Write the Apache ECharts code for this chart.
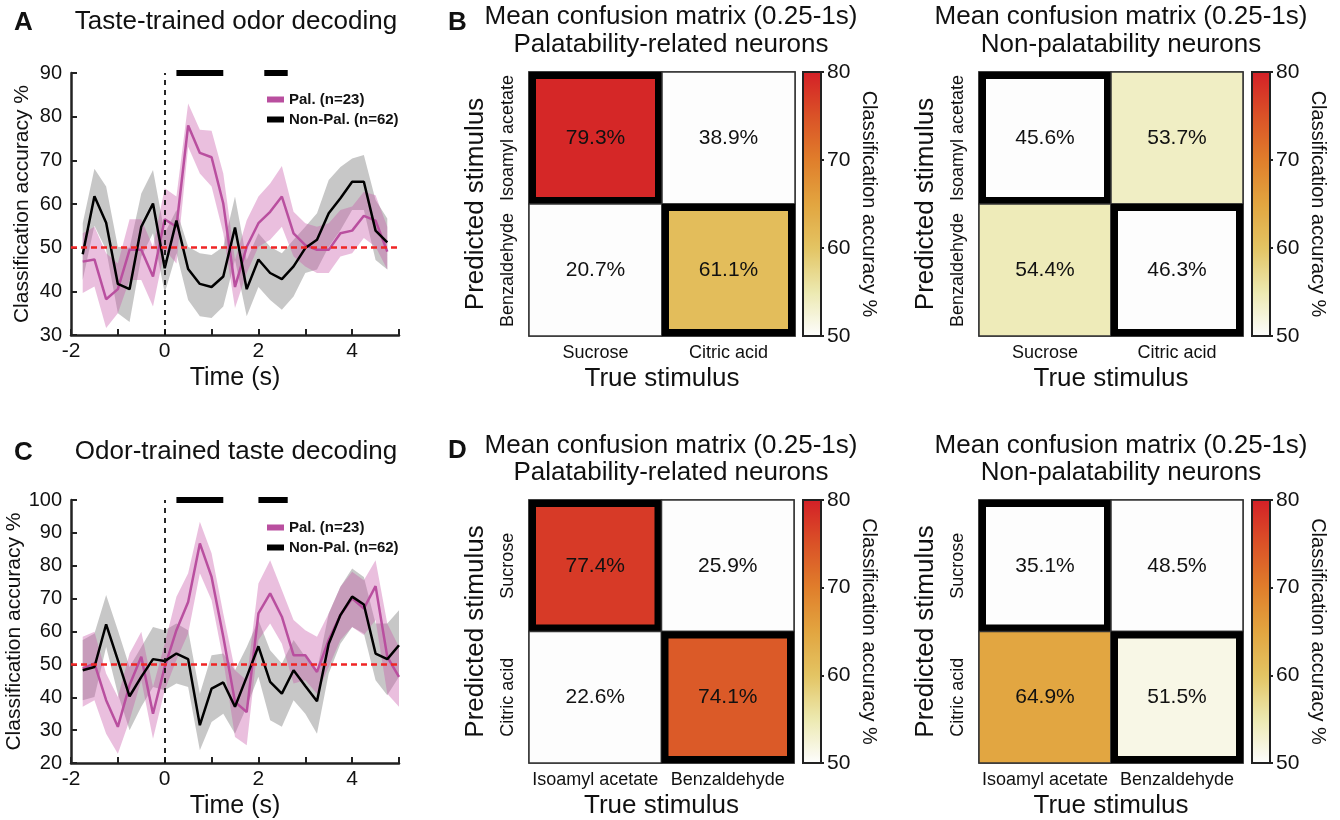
<!DOCTYPE html>
<html>
<head>
<meta charset="utf-8">
<script src="https://cdn.jsdelivr.net/npm/echarts@6/dist/echarts.min.js"></script>
<style>
  html, body { margin: 0; padding: 0; background: #fff; }
  #chart { width: 1340px; height: 820px; }
</style>
</head>
<body>
<div id="chart"></div>
<script>
// ---- data ----
const timeA = [-1.75, -1.5, -1.25, -1, -0.75, -0.5, -0.25, 0, 0.25, 0.5, 0.75, 1, 1.25, 1.5, 1.75, 2, 2.25, 2.5, 2.75, 3, 3.25, 3.5, 3.75, 4, 4.25, 4.5, 4.75];
const palA = [46.8, 47.3, 38.2, 40.5, 49.5, 49.5, 43.4, 56.5, 54.8, 78.0, 71.7, 70.7, 60.1, 41.0, 50.2, 55.6, 58.2, 61.7, 53.3, 50.6, 49.5, 49.5, 53.3, 53.9, 57.3, 56.2, 49.1];
const palA_hi = [53.3, 54.8, 48.7, 46.4, 56.5, 56.5, 50.2, 63.6, 61.7, 83.0, 77.0, 76.8, 67.0, 47.2, 56.3, 61.7, 64.7, 68.7, 58.2, 55.6, 54.8, 55.6, 58.6, 59.4, 62.8, 62.0, 54.8];
const palA_lo = [39.6, 41.1, 31.6, 35.0, 42.6, 42.6, 36.5, 49.5, 46.4, 73.1, 67.0, 64.0, 53.3, 36.2, 44.2, 50.2, 51.8, 54.8, 48.0, 45.7, 44.2, 44.2, 48.0, 48.7, 52.2, 50.2, 45.0];
const nonA = [48.5, 61.8, 55.7, 41.7, 40.5, 54.8, 60.1, 45.3, 56.2, 45.1, 41.7, 41.0, 43.4, 54.6, 40.5, 47.3, 44.2, 42.8, 45.7, 49.9, 51.8, 57.9, 61.3, 65.1, 65.1, 53.9, 51.2];
const nonA_hi = [55.6, 68.1, 64.0, 50.2, 50.0, 62.4, 67.8, 53.3, 58.6, 50.2, 48.7, 48.3, 50.2, 61.7, 47.2, 53.3, 50.2, 48.7, 51.8, 54.8, 57.9, 65.5, 68.5, 70.4, 71.2, 60.9, 56.7];
const nonA_lo = [42.6, 55.0, 49.5, 35.0, 33.0, 48.0, 53.3, 39.6, 48.7, 38.0, 34.3, 33.9, 36.5, 47.2, 34.3, 41.0, 38.0, 35.8, 38.8, 44.2, 45.0, 50.2, 54.0, 58.6, 58.6, 47.2, 45.0];
const sigA = [[0.25, 1.25], [2.125, 2.625]];

const timeC = [-1.75, -1.5, -1.25, -1, -0.75, -0.5, -0.25, 0, 0.25, 0.5, 0.75, 1, 1.25, 1.5, 1.75, 2, 2.25, 2.5, 2.75, 3, 3.25, 3.5, 3.75, 4, 4.25, 4.5, 4.75, 5];
const palC = [48.7, 50.3, 39.1, 31.0, 43.7, 52.3, 35.0, 49.2, 60.4, 69.0, 86.8, 76.6, 58.4, 38.6, 35.5, 65.5, 71.6, 64.5, 52.8, 52.8, 47.7, 57.4, 65.0, 70.1, 67.0, 73.8, 52.3, 46.2];
const palC_hi = [58.4, 59.9, 47.2, 40.1, 53.3, 59.9, 43.1, 56.3, 70.6, 77.7, 93.4, 83.8, 65.5, 48.2, 45.2, 74.6, 81.7, 72.6, 63.5, 60.4, 58.4, 65.5, 73.6, 78.2, 75.6, 81.7, 62.4, 55.3];
const palC_lo = [37.1, 39.1, 28.9, 22.8, 33.0, 45.2, 27.4, 42.1, 51.3, 59.4, 77.7, 69.5, 51.3, 27.9, 25.4, 57.4, 62.4, 56.3, 44.2, 45.2, 41.1, 49.2, 57.4, 61.4, 58.9, 63.5, 41.1, 37.1];
const nonC = [48.2, 49.2, 62.2, 51.3, 40.3, 46.2, 51.6, 51.0, 53.3, 51.6, 31.5, 42.6, 44.5, 37.1, 46.2, 55.5, 44.7, 41.1, 48.2, 43.4, 38.8, 56.3, 65.0, 70.6, 68.2, 53.3, 51.6, 55.8];
const nonC_hi = [57.4, 59.4, 71.1, 60.4, 49.2, 55.3, 61.4, 60.4, 62.4, 60.4, 41.1, 52.8, 53.3, 48.2, 55.3, 63.5, 54.3, 50.3, 57.4, 52.3, 48.2, 65.5, 73.6, 79.2, 76.6, 62.4, 62.4, 66.5];
const nonC_lo = [39.1, 40.1, 55.3, 41.1, 30.0, 37.1, 43.1, 42.1, 44.2, 43.1, 23.9, 32.5, 35.0, 28.9, 37.1, 46.2, 33.0, 31.0, 39.1, 35.0, 28.9, 47.2, 56.3, 61.4, 59.4, 45.2, 40.6, 46.2];
const sigC = [[0.25, 1.25], [2.0, 2.625]];

const tastes = ['Sucrose', 'Citric acid'];
const odors = ['Isoamyl acetate', 'Benzaldehyde'];
// rows = predicted (top first), cols = true
const cmB_pal = [[79.3, 38.9], [20.7, 61.1]];
const cmB_non = [[45.6, 53.7], [54.4, 46.3]];
const cmD_pal = [[77.4, 25.9], [22.6, 74.1]];
const cmD_non = [[35.1, 48.5], [64.9, 51.5]];
const cbTicks = [50, 80, 10];

// ---- style ----
const FONT = '"Liberation Sans", Arial, sans-serif';
const INK = '#111';
const PINK = '#b94f9f';
const heatColors = ['#fdfdfd', '#ece9b0', '#e3c463', '#e2a540', '#e07e2b', '#da5227', '#d42027'];

const pairs = (xs, ys) => xs.map((x, i) => [x, ys[i]]);
const triples = (xs, lo, hi) => xs.map((x, i) => [x, lo[i], hi[i]]);

const grids = [], xAxes = [], yAxes = [], series = [], visualMaps = [];

// one filled polygon: upper edge left->right, lower edge right->left
function bandRenderer(fill) {
  return function (params, api) {
    if (params.dataIndexInside !== 0) return null;
    const n = params.dataInsideLength;
    const up = [], dn = [];
    for (let i = 0; i < n; i++) {
      up.push(api.coord([api.value(0, i), api.value(2, i)]));
      dn.push(api.coord([api.value(0, i), api.value(1, i)]));
    }
    return { type: 'polygon', shape: { points: up.concat(dn.reverse()) }, style: { fill: fill } };
  };
}

function lineGrid(gi, box, ymin, ymax, time, pal, palHi, palLo, non, nonHi, nonLo, sig) {
  grids.push(Object.assign({ containLabel: false }, box));
  const axLine = { show: true, onZero: false, lineStyle: { color: '#222', width: 2.5 } };
  xAxes.push({
    gridIndex: gi, type: 'value', min: -2, max: 5, interval: 1,
    axisLine: axLine,
    axisTick: { show: true, inside: true, length: 6, lineStyle: { color: '#222', width: 2 } },
    axisLabel: { color: INK, fontSize: 21, fontFamily: FONT, margin: 6, formatter: v => (v % 2 === 0 ? String(v) : '') },
    splitLine: { show: false },
    name: 'Time (s)', nameLocation: 'middle', nameGap: 31,
    nameTextStyle: { color: INK, fontSize: 25, fontFamily: FONT }
  });
  yAxes.push({
    gridIndex: gi, type: 'value', min: ymin, max: ymax, interval: 10,
    axisLine: axLine,
    axisTick: { show: true, inside: true, length: 6, lineStyle: { color: '#222', width: 2 } },
    axisLabel: { color: INK, fontSize: 20, fontFamily: FONT, margin: 9 },
    splitLine: { show: false },
    name: 'Classification accuracy %', nameLocation: 'middle', nameGap: 38,
    nameTextStyle: { color: INK, fontSize: 21, fontFamily: FONT }
  });
  const base = { xAxisIndex: gi, yAxisIndex: gi, silent: true, animation: false };
  series.push(Object.assign({}, base, { type: 'custom', name: 'nonband' + gi, z: 1,
    renderItem: bandRenderer('rgba(0,0,0,0.22)'), encode: { x: 0, y: [1, 2] }, data: triples(time, nonLo, nonHi) }));
  series.push(Object.assign({}, base, { type: 'custom', name: 'palband' + gi, z: 1,
    renderItem: bandRenderer('rgba(200,86,168,0.38)'), encode: { x: 0, y: [1, 2] }, data: triples(time, palLo, palHi) }));
  const line = Object.assign({}, base, { type: 'line', symbol: 'none', z: 3 });
  series.push(Object.assign({}, line, { name: 'Pal. (n=23)', color: PINK, data: pairs(time, pal),
    lineStyle: { color: PINK, width: 2.5 } }));
  series.push(Object.assign({}, line, { name: 'Non-Pal. (n=62)', color: '#000', data: pairs(time, non),
    lineStyle: { color: '#000', width: 2.5 },
    markLine: {
      silent: true, symbol: 'none', label: { show: false }, animation: false,
      data: [
        { xAxis: 0, lineStyle: { color: '#111', width: 1.8, type: [5, 5] } },
        { yAxis: 50, lineStyle: { color: '#f02525', width: 2.5, type: [6, 4] } }
      ]
    } }));
  sig.forEach((s, k) => {
    series.push(Object.assign({}, line, { name: 'sig' + gi + '_' + k, clip: false, z: 5,
      data: [[s[0], ymax], [s[1], ymax]], lineStyle: { color: '#000', width: 6, cap: 'butt' } }));
  });
}

function renderCell(params, api) {
  const xi = api.value(0), yi = api.value(1), v = api.value(2);
  const c = api.coord([xi, yi]);
  const s = api.size([1, 1]);
  const x0 = c[0] - s[0] / 2, y0 = c[1] - s[1] / 2;
  const kids = [{
    type: 'rect', shape: { x: x0, y: y0, width: s[0], height: s[1] },
    style: { fill: api.visual('color'), stroke: '#333', lineWidth: 1.5 }
  }];
  if (xi === yi) {
    kids.push({
      type: 'rect', shape: { x: x0 + 3.5, y: y0 + 3.5, width: s[0] - 7, height: s[1] - 7 },
      style: { fill: 'none', stroke: '#000', lineWidth: 7 }
    });
  }
  kids.push({
    type: 'text',
    style: { text: v.toFixed(1) + '%', x: c[0], y: c[1], align: 'center', verticalAlign: 'middle',
      fill: INK, fontSize: 21, fontFamily: FONT }
  });
  return { type: 'group', children: kids };
}

function matrixGrid(gi, box, cbLeft, cols, rows, mat) {
  grids.push(Object.assign({ show: true, borderColor: '#333', borderWidth: 1.5 }, box));
  xAxes.push({
    gridIndex: gi, type: 'category', data: cols,
    axisLine: { show: false }, axisTick: { show: false }, splitLine: { show: false },
    axisLabel: { color: INK, fontSize: 18, fontFamily: FONT, margin: 8, interval: 0 },
    name: 'True stimulus', nameLocation: 'middle', nameGap: 30,
    nameTextStyle: { color: INK, fontSize: 26, fontFamily: FONT }
  });
  yAxes.push({
    gridIndex: gi, type: 'category', data: rows, inverse: true,
    axisLine: { show: false }, axisTick: { show: false }, splitLine: { show: false },
    axisLabel: { color: INK, fontSize: 18, fontFamily: FONT, margin: 12, rotate: 90, interval: 0 },
    name: 'Predicted stimulus', nameLocation: 'middle', nameGap: 40,
    nameTextStyle: { color: INK, fontSize: 26, fontFamily: FONT }
  });
  const data = [];
  mat.forEach((row, r) => row.forEach((v, c) => data.push([c, r, v])));
  const si = series.length;
  series.push({
    type: 'custom', xAxisIndex: gi, yAxisIndex: gi, renderItem: renderCell,
    encode: { x: 0, y: 1 }, data: data, silent: true, animation: false
  });
  visualMaps.push({
    type: 'continuous', seriesIndex: si, dimension: 2, min: cbTicks[0], max: cbTicks[1],
    calculable: false, show: true, orient: 'vertical', padding: 0,
    left: cbLeft, top: box.top, itemWidth: 18, itemHeight: box.height,
    inRange: { color: heatColors }, outOfRange: { color: ['#fdfdfd'] }
  });
  return { ci: gi + 4, box: { left: cbLeft, top: box.top, width: 18, height: box.height } };
}

lineGrid(0, { left: 71, top: 73, width: 328, height: 262 }, 30, 90, timeA, palA, palA_hi, palA_lo, nonA, nonA_hi, nonA_lo, sigA);
lineGrid(1, { left: 71, top: 500, width: 328, height: 263 }, 20, 100, timeC, palC, palC_hi, palC_lo, nonC, nonC_hi, nonC_lo, sigC);
const cbs = [
  matrixGrid(2, { left: 529, top: 72, width: 266, height: 264 }, 803, tastes, odors, cmB_pal),
  matrixGrid(3, { left: 979, top: 72, width: 264, height: 264 }, 1252, tastes, odors, cmB_non),
  matrixGrid(4, { left: 529, top: 500, width: 265, height: 263 }, 803, odors, tastes, cmD_pal),
  matrixGrid(5, { left: 979, top: 500, width: 264, height: 263 }, 1252, odors, tastes, cmD_non)
];
// colour bar frames and their 50-80 scales
cbs.forEach(cb => {
  grids.push(Object.assign({ show: true, borderColor: '#222', borderWidth: 2, z: 10 }, cb.box));
  xAxes.push({ gridIndex: cb.ci, type: 'value', show: false, min: 0, max: 1 });
  yAxes.push({
    gridIndex: cb.ci, type: 'value', position: 'right', min: cbTicks[0], max: cbTicks[1], interval: cbTicks[2],
    axisLine: { show: false, onZero: false },
    axisTick: { show: true, inside: false, length: 3, lineStyle: { color: '#222', width: 2 } },
    axisLabel: { color: INK, fontSize: 21, fontFamily: FONT, margin: 6 },
    splitLine: { show: false },
    name: 'Classification accuracy %', nameLocation: 'middle', nameGap: 38, nameRotate: -90,
    nameTextStyle: { color: INK, fontSize: 20, fontFamily: FONT }
  });
});

const txt = (x, y, text, size, weight, align) => ({
  type: 'text', x: x, y: y, silent: true,
  style: { text: text, fontSize: size, fontWeight: weight || 'normal', fontFamily: FONT, fill: INK,
    align: align || 'center', verticalAlign: 'middle' }
});

const legendBase = {
  data: ['Pal. (n=23)', 'Non-Pal. (n=62)'], orient: 'vertical', left: 262, itemWidth: 17, itemHeight: 6,
  itemGap: 5, icon: 'rect', selectedMode: false,
  textStyle: { color: INK, fontSize: 15, fontWeight: 'bold', fontFamily: FONT }
};

const chart = echarts.init(document.getElementById('chart'), null, { renderer: 'canvas' });
chart.setOption({
  backgroundColor: '#fff',
  animation: false,
  grid: grids,
  xAxis: xAxes,
  yAxis: yAxes,
  visualMap: visualMaps,
  legend: [
    Object.assign({}, legendBase, { top: 87 }),
    Object.assign({}, legendBase, { top: 515 })
  ],
  graphic: [
    txt(14, 23, 'A', 26, 'bold', 'left'),
    txt(236, 22, 'Taste-trained odor decoding', 26),
    txt(14, 453, 'C', 26, 'bold', 'left'),
    txt(236, 452, 'Odor-trained taste decoding', 26),
    txt(448, 23, 'B', 26, 'bold', 'left'),
    txt(671, 17, 'Mean confusion matrix (0.25-1s)', 26),
    txt(671, 45, 'Palatability-related neurons', 26),
    txt(1121, 17, 'Mean confusion matrix (0.25-1s)', 26),
    txt(1121, 45, 'Non-palatability neurons', 26),
    txt(448, 451, 'D', 26, 'bold', 'left'),
    txt(671, 446, 'Mean confusion matrix (0.25-1s)', 26),
    txt(671, 473, 'Palatability-related neurons', 26),
    txt(1121, 446, 'Mean confusion matrix (0.25-1s)', 26),
    txt(1121, 473, 'Non-palatability neurons', 26)
  ],
  series: series
});
</script>
</body>
</html>
